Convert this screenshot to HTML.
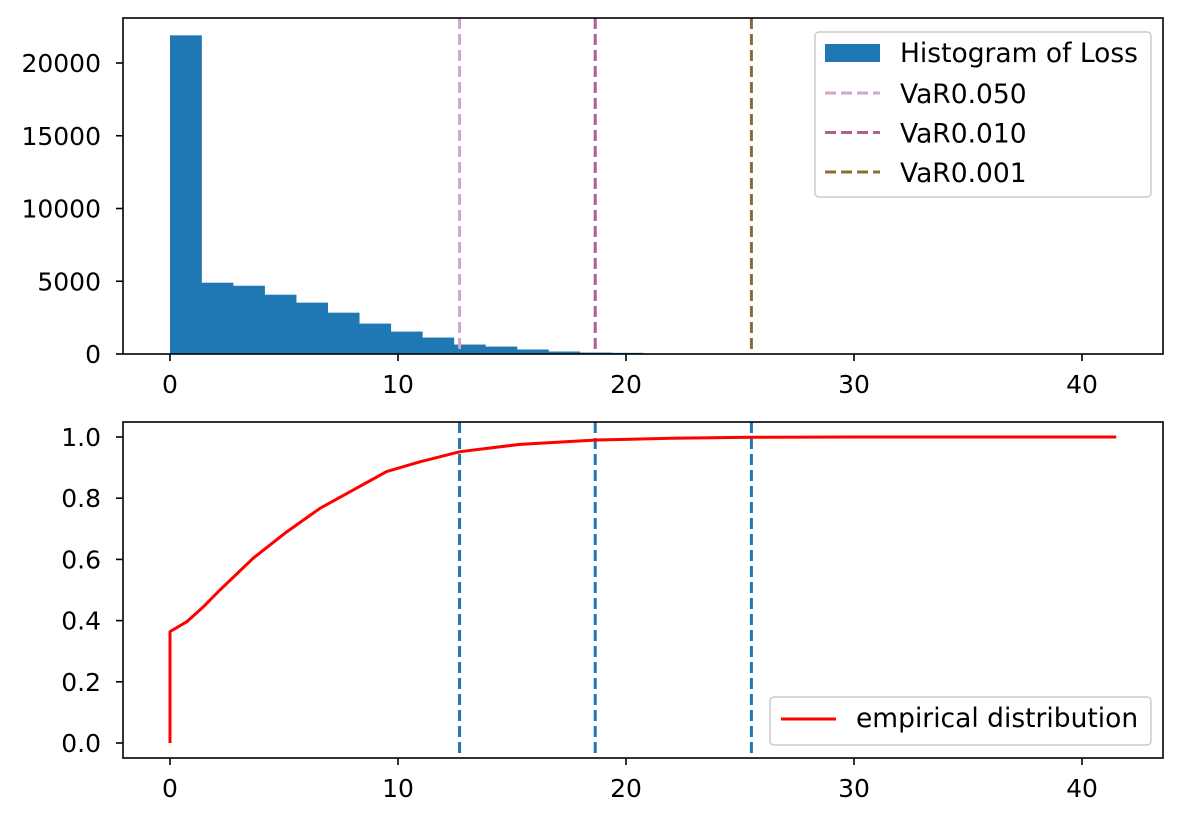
<!DOCTYPE html>
<html><head><meta charset="utf-8"><style>
html,body{margin:0;padding:0;background:#fff;}
svg text{font-family:"DejaVu Sans","Liberation Sans",sans-serif;font-size:25px;fill:#000;}
svg text.lg{font-size:26.5px;}
</style></head><body>
<svg id="fig" width="1183" height="822" viewBox="0 0 1183 822" xmlns="http://www.w3.org/2000/svg">
<rect width="1183" height="822" fill="#fff"/>
<g id="topPanel"></g>
<g id="botPanel"></g>
</svg>
<script>
const histCounts=[21900,4900,4690,4075,3530,2840,2090,1540,1130,650,510,310,170,100,80,30,15,8,5,3,2,1,1,0,0,0,0,0,0,1];
const binStart=0, binEnd=41.5;
const varLevels=[12.7,18.65,25.5];
const varLabels=["VaR0.050","VaR0.010","VaR0.001"];
const varColors=["#d3a4c9","#a8638f","#8c6a3a"];
const cdfX=[0,0,0.73,1.46,2.19,3.65,5.12,6.58,8.04,9.5,10.96,12.72,15.35,18.7,22,25.5,30,41.5];
const cdfY=[0,0.364,0.396,0.445,0.5,0.604,0.69,0.767,0.827,0.887,0.919,0.952,0.976,0.99,0.996,0.999,1.0,1.0];
const xTicks=[0,10,20,30,40];
const yTicksTop=[0,5000,10000,15000,20000];
const yTicksBot=[0,0.2,0.4,0.6,0.8,1.0];

const NS="http://www.w3.org/2000/svg";
function mk(p,tag,a){const e=document.createElementNS(NS,tag);for(const k in a)e.setAttribute(k,a[k]);p.appendChild(e);return e;}
const L=123,R=1163;
const xs=v=>170+v*22.8;
const PT={top:18,bot:354}, PB={top:422,bot:758};
const ysT=v=>354-v*0.01455;
const ysB=v=>743-v*306;
const gTop=document.getElementById('topPanel'), gBot=document.getElementById('botPanel');

const bw=(binEnd-binStart)/histCounts.length;
histCounts.forEach((c,i)=>{
  if(c<=0)return;
  const x0=xs(binStart+i*bw), x1=xs(binStart+(i+1)*bw);
  const r=mk(gTop,'rect',{x:x0,y:ysT(c),width:x1-x0+0.3,height:354-ysT(c),fill:'#1f77b4'});
  
  
});
varLevels.forEach((v,i)=>{
  const l=mk(gTop,'line',{x1:xs(v),x2:xs(v),y1:PT.top,y2:PT.bot,stroke:varColors[i],'stroke-width':3,'stroke-dasharray':'11 5'});
  
  
  const l2=mk(gBot,'line',{x1:xs(v),x2:xs(v),y1:PB.top,y2:PB.bot,stroke:'#1f77b4','stroke-width':3,'stroke-dasharray':'11 5'});
  
  
});
const pts=cdfX.map((x,i)=>xs(x)+','+ysB(cdfY[i])).join(' ');
const pl=mk(gBot,'polyline',{points:pts,fill:'none',stroke:'#ff0000','stroke-width':3,'stroke-linejoin':'round'});



function axes(g,P,ys,yt,fmt){
  const f=mk(g,'rect',{x:L,y:P.top,width:R-L,height:P.bot-P.top,fill:'none',stroke:'#000','stroke-width':1.6});
  
  
  xTicks.forEach(v=>{
    mk(g,'line',{x1:xs(v),x2:xs(v),y1:P.bot,y2:P.bot+7,stroke:'#000','stroke-width':1.6});
    const t=mk(g,'text',{x:xs(v),y:P.bot+39,'text-anchor':'middle'});t.textContent=v;
    
    
  });
  yt.forEach(v=>{
    mk(g,'line',{x1:L-7,x2:L,y1:ys(v),y2:ys(v),stroke:'#000','stroke-width':1.6});
    const t=mk(g,'text',{x:L-22,y:ys(v)+9,'text-anchor':'end'});t.textContent=fmt(v);
    
    
  });
}
axes(gTop,PT,ysT,yTicksTop,v=>String(v));
axes(gBot,PB,ysB,yTicksBot,v=>v.toFixed(1));

const lg=mk(gTop,'g',{});


mk(lg,'rect',{x:815,y:32,width:336,height:165,rx:4,fill:'#fff',stroke:'#ccc','stroke-width':1.5});
mk(lg,'rect',{x:825,y:44,width:55,height:18,fill:'#1f77b4'});
let t=mk(lg,'text',{x:900,y:62,'class':'lg'});t.textContent="Histogram of Loss";
varLabels.forEach((s,i)=>{
  const y=93+i*39.5;
  mk(lg,'line',{x1:825,x2:880,y1:y,y2:y,stroke:varColors[i],'stroke-width':3,'stroke-dasharray':'11 5'});
  const tt=mk(lg,'text',{x:900,y:y+10,'class':'lg'});tt.textContent=s;
  
  
});
const lg2=mk(gBot,'g',{});


mk(lg2,'rect',{x:770,y:697,width:381,height:48,rx:4,fill:'#fff',stroke:'#ccc','stroke-width':1.5});
mk(lg2,'line',{x1:781,x2:836,y1:719,y2:719,stroke:'#ff0000','stroke-width':3});
t=mk(lg2,'text',{x:856,y:727,'class':'lg'});t.textContent="empirical distribution";
</script>
</body></html>
